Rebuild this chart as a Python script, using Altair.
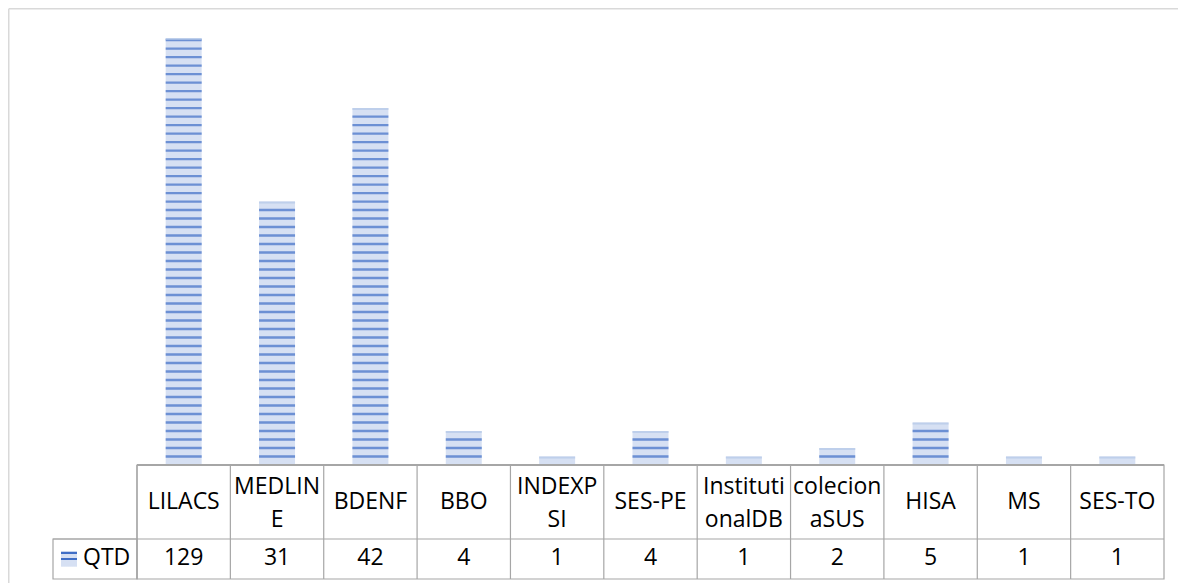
import altair as alt
import pandas as pd

# ---------------- data ----------------
categories = ["LILACS", "MEDLINE", "BDENF", "BBO", "INDEXPSI", "SES-PE",
              "InstitutionalDB", "colecionaSUS", "HISA", "MS", "SES-TO"]
values = [129, 31, 42, 4, 1, 4, 1, 2, 5, 1, 1]
header_lines = [["LILACS"], ["MEDLIN", "E"], ["BDENF"], ["BBO"], ["INDEXP", "SI"],
                ["SES-PE"], ["Instituti", "onalDB"], ["colecion", "aSUS"],
                ["HISA"], ["MS"], ["SES-TO"]]
series_name = "QTD"

# ---------------- layout / style ----------------
AXIS_MAX = 50.25
W = 1027
H_PLOT = 427
H_TABLE = 114
HEADER_H = 74
LEG_W = 84
BAR_W = 36
ORIGIN_X = 137      # page x of the plot's left edge
ORIGIN_Y = 38       # page y of the plot's top edge

PALE = "#d6e0f3"
DARK = "#3f6ec6"
TOPLINE = "#b4c7e7"
GRID = "#a6a6a6"
BORDER = "#d9d9d9"
FONT = "Open Sans"
FS = 23

df = pd.DataFrame({"cat": categories, "val": values, "hdr": header_lines})
stripes = pd.DataFrame(
    [{"cat": c, "k": k} for c, v in zip(categories, values)
     for k in range(1, min(v - 1, int(AXIS_MAX)) + 1)]
)
one = pd.DataFrame({"a": [0]})

x_scale = alt.Scale(paddingInner=0, paddingOuter=0)
x_enc = alt.X("cat:N", sort=categories, scale=x_scale, axis=None)
y_scale = alt.Scale(domain=[0, AXIS_MAX], clamp=True, nice=False, zero=True)

# ---------------- plot area ----------------
bx = 8.75 - ORIGIN_X
by = 8.75 - ORIGIN_Y
outer_top = alt.Chart(one).mark_rule(stroke=BORDER, strokeWidth=1.5).encode(
    x=alt.value(bx), x2=alt.value(1178 - ORIGIN_X), y=alt.value(by)
)
outer_left = alt.Chart(one).mark_rule(stroke=BORDER, strokeWidth=1.5).encode(
    x=alt.value(bx), y=alt.value(by), y2=alt.value(586 - ORIGIN_Y)
)
bars = alt.Chart(df).mark_bar(width=BAR_W, color=PALE).encode(
    x=x_enc, y=alt.Y("val:Q", scale=y_scale, axis=None)
)
stripe_layer = alt.Chart(stripes).mark_tick(size=BAR_W, thickness=2.4, color=DARK).encode(
    x=x_enc, y=alt.Y("k:Q", scale=y_scale, axis=None)
)
top_layer = alt.Chart(df).mark_tick(size=BAR_W, thickness=2, color=TOPLINE, yOffset=1).encode(
    x=x_enc, y=alt.Y("val:Q", scale=y_scale, axis=None)
)
chart_a = alt.layer(outer_top, outer_left, bars, stripe_layer, top_layer).properties(
    width=W, height=H_PLOT
)

# ---------------- data table ----------------
frame = alt.Chart(one).mark_rect(fill="transparent", stroke=GRID, strokeWidth=1.2).encode(
    x=alt.value(0), x2=alt.value(W), y=alt.value(0), y2=alt.value(H_TABLE)
)
top_rule = alt.Chart(one).mark_rule(stroke=GRID, strokeWidth=2).encode(
    x=alt.value(0), x2=alt.value(W), y=alt.value(0)
)
vlines = alt.Chart(df).mark_rule(stroke=GRID, strokeWidth=1.2).encode(
    x=alt.X("cat:N", sort=categories, scale=x_scale, axis=None, bandPosition=0),
    y=alt.value(0), y2=alt.value(H_TABLE),
)
hline = alt.Chart(one).mark_rule(stroke=GRID, strokeWidth=1.2).encode(
    x=alt.value(-LEG_W), x2=alt.value(W), y=alt.value(HEADER_H)
)
leg_frame = alt.Chart(one).mark_rect(fill="transparent", stroke=GRID, strokeWidth=1.2).encode(
    x=alt.value(-LEG_W), x2=alt.value(0), y=alt.value(HEADER_H), y2=alt.value(H_TABLE)
)
key_grad = alt.LinearGradient(
    gradient="linear", x1=0, x2=0, y1=0, y2=1,
    stops=[
        alt.GradientStop(offset=0.0, color=DARK),
        alt.GradientStop(offset=0.13, color=DARK),
        alt.GradientStop(offset=0.13, color=PALE),
        alt.GradientStop(offset=0.43, color=PALE),
        alt.GradientStop(offset=0.43, color=DARK),
        alt.GradientStop(offset=0.57, color=DARK),
        alt.GradientStop(offset=0.57, color=PALE),
        alt.GradientStop(offset=1.0, color=PALE),
    ],
)
leg_key = alt.Chart(one).mark_rect(fill=key_grad).encode(
    x=alt.value(-76), x2=alt.value(-60), y=alt.value(86.7), y2=alt.value(101.7)
)
leg_text = alt.Chart(one).mark_text(
    font=FONT, fontSize=FS, align="left", baseline="middle", color="black", text=series_name
).encode(x=alt.value(-54), y=alt.value(93))

hdr_single = alt.Chart(df).transform_filter("length(datum.hdr) == 1").mark_text(
    font=FONT, fontSize=FS, align="center", baseline="middle", color="black"
).encode(x=x_enc, y=alt.value(37), text="hdr")
hdr_multi = alt.Chart(df).transform_filter("length(datum.hdr) > 1").mark_text(
    font=FONT, fontSize=FS, align="center", baseline="middle", lineHeight=33, color="black"
).encode(x=x_enc, y=alt.value(21.5), text="hdr")
val_text = alt.Chart(df).mark_text(
    font=FONT, fontSize=FS, align="center", baseline="middle", color="black"
).encode(x=x_enc, y=alt.value(93), text="val:Q")

chart_b = alt.layer(frame, vlines, hline, top_rule, leg_frame, leg_key, leg_text,
                    hdr_single, hdr_multi, val_text).properties(width=W, height=H_TABLE)

chart = alt.vconcat(chart_a, chart_b, spacing=0, bounds="flush", padding=0).configure_view(
    strokeWidth=0
)

chart.save("out.html", embed_options={"renderer": "svg", "actions": False})
